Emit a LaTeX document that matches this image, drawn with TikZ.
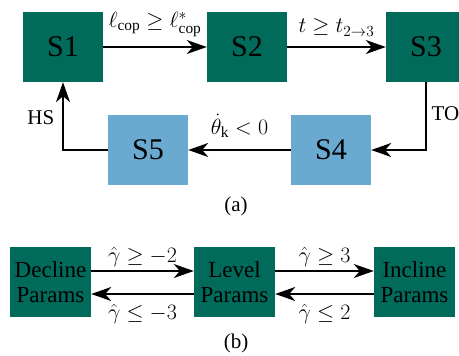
\documentclass[tikz,border=0pt]{standalone}
\usepackage{fix-cm}
\usepackage{xcolor}
\usepackage{amsmath, amssymb}
\usepackage{fontspec}
\setmainfont{Liberation Serif}
\usepackage{tikz}
\usetikzlibrary{arrows.meta, positioning}

\definecolor{stategreen}{RGB}{0,107,90}
\definecolor{stateblue}{RGB}{106,169,208}

\tikzset{
	statebox/.style={rectangle, minimum width=80pt, minimum height=70pt, inner sep=0pt, font=\fontsize{30}{34}\selectfont},
	parambox/.style={rectangle, fill=stategreen, minimum width=81pt, minimum height=70pt, inner sep=0pt, align=center, font=\fontsize{23}{25}\selectfont},
	trans/.style={line width=1.4pt, -{Stealth[length=20pt, width=14pt, inset=6pt]}},
	lbl/.style={font=\fontsize{22}{25}\selectfont, inner sep=1pt},
	tag/.style={font=\fontsize{21}{24}\selectfont, inner sep=1pt}
}

\begin{document}
\begin{tikzpicture}[x=1pt, y=-1pt]
				\useasboundingbox (0,0) rectangle (459,356);
				% (a) gait states
				\node[statebox, fill=stategreen] (s1) at (63,47) {S1};
				\node[statebox, fill=stategreen] (s2) at (247,47) {S2};
				\node[statebox, fill=stategreen] (s3) at (426,47) {S3};
				\node[statebox, fill=stateblue] (s4) at (331,150) {S4};
				\node[statebox, fill=stateblue] (s5) at (148,150) {S5};
				\draw[trans] (s1) -- node[lbl, above=9pt] {$\ell_{\text{cop}} \geq \ell^{*}_{\text{cop}}$} (s2);
				\draw[trans] (s2) -- node[lbl, above=9pt] {$t \geq t_{2\rightarrow 3}$} (s3);
				\draw[trans] (s3.south) |- node[tag, pos=0.23, right=4pt] {TO} (s4.east);
				\draw[trans] (s4) -- node[lbl, above=11pt] {$\dot{\theta}_{\text{k}} < 0$} (s5);
				\draw[trans] (s5.west) -| node[tag, pos=0.74, left=7pt] {HS} (s1.south);
				\node[tag] (capa) at (236,206) {(a)};
				% (b) parameter sets
				\node[parambox] (decline) at (50.5,282) {Decline\\Params};
				\node[parambox] (level) at (234.5,282) {Level\\Params};
				\node[parambox] (incline) at (414.5,282) {Incline\\Params};
				\draw[trans] ([yshift=11pt]decline.east) -- node[lbl, above=3pt] {$\hat{\gamma} \geq -2$} ([yshift=11pt]level.west);
				\draw[trans] ([yshift=-12pt]level.west) -- node[lbl, below=9pt] {$\hat{\gamma} \leq -3$} ([yshift=-12pt]decline.east);
				\draw[trans] ([yshift=11pt]level.east) -- node[lbl, above=3pt] {$\hat{\gamma} \geq 3$} ([yshift=11pt]incline.west);
				\draw[trans] ([yshift=-12pt]incline.west) -- node[lbl, below=9pt] {$\hat{\gamma} \leq 2$} ([yshift=-12pt]level.east);
				\node[tag] (capb) at (236,343) {(b)};
			\end{tikzpicture}
\end{document}
